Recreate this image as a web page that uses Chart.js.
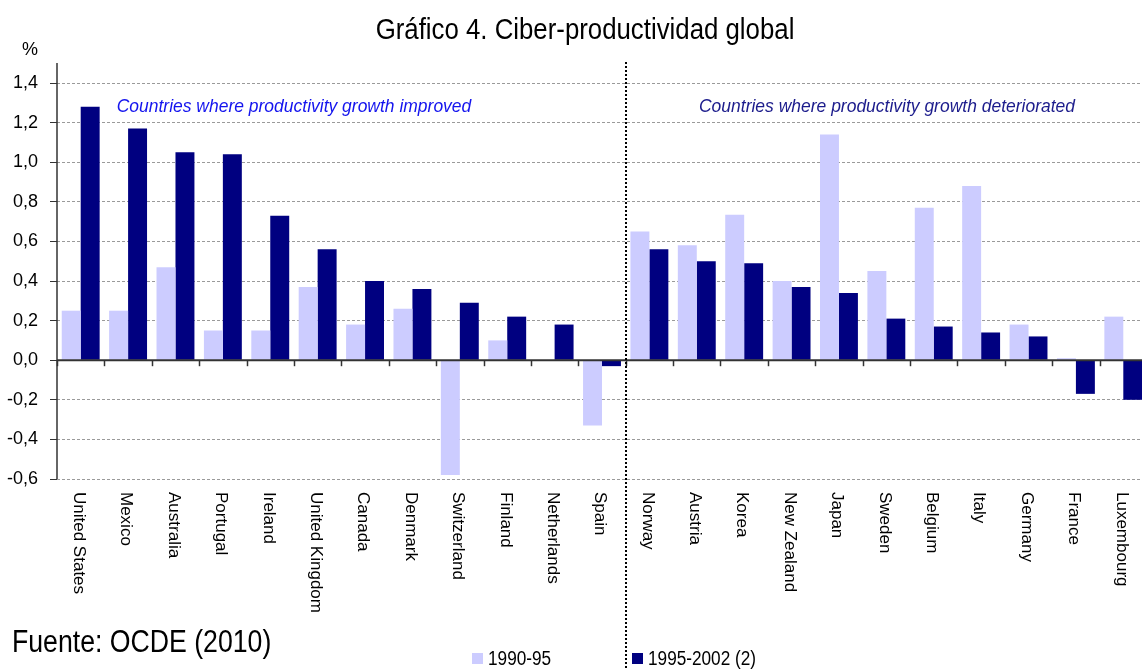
<!doctype html>
<html lang="es">
  <head>
    <meta charset="utf-8">
    <title>Gráfico 4. Ciber-productividad global</title>
    <script src="https://cdn.jsdelivr.net/npm/chart.js"></script>
    <style>
      html, body { margin: 0; padding: 0; background: #fff; overflow: hidden; }
      /* the plot runs a few pixels past the right edge of the picture, as in the original */
      #wrap { width: 1147px; height: 669px; position: relative; }
    </style>
  </head>
  <body>
    <div id="wrap"><canvas id="myChart"></canvas></div>
    <script>
      // data
      const countries = ["United States", "Mexico", "Australia", "Portugal", "Ireland", "United Kingdom",
        "Canada", "Denmark", "Switzerland", "Finland", "Netherlands", "Spain",
        "Norway", "Austria", "Korea", "New Zealand", "Japan", "Sweden", "Belgium", "Italy",
        "Germany", "France", "Luxembourg"];
      const serie1990 = [0.25, 0.25, 0.47, 0.15, 0.15, 0.37, 0.18, 0.26, -0.58, 0.10, 0, -0.33,
        0.65, 0.58, 0.735, 0.40, 1.14, 0.45, 0.77, 0.88, 0.18, 0.01, 0.22];
      const serie1995 = [1.28, 1.17, 1.05, 1.04, 0.73, 0.56, 0.40, 0.36, 0.29, 0.22, 0.18, -0.03,
        0.56, 0.50, 0.49, 0.37, 0.34, 0.21, 0.17, 0.14, 0.12, -0.17, -0.20];
      const seriesNames = ["1990-95", "1995-2002 (2)"];
      const yMin = -0.6, yMax = 1.4, yStep = 0.2;
      const splitAfter = 11; // last country of the "improved" group (Spain)
      const titleText = "Gráfico 4. Ciber-productividad global";
      const noteLeft = "Countries where productivity growth improved";
      const noteRight = "Countries where productivity growth deteriorated";
      const sourceText = "Fuente: OCDE (2010)";

      const FONT = '"Liberation Sans", Arial, sans-serif';
      const LIGHT = "#ccccff";
      const DARK = "#000080";

      // no Arial Narrow here, so squeeze Liberation Sans sideways
      function narrowText(c, txt, x, y, sx) {
        c.save();
        c.translate(x, y);
        c.scale(sx, 1);
        c.fillText(txt, 0, 0);
        c.restore();
      }

      const extras = {
        id: "extras",
        afterDatasetsDraw(chart) {
          const c = chart.ctx;
          const x = chart.scales.x, y = chart.scales.y;
          const area = chart.chartArea;
          const y0 = y.getPixelForValue(0);
          const step = x.getPixelForValue(1) - x.getPixelForValue(0);

          c.save();
          // y axis line (runs a bit above the top tick)
          c.strokeStyle = "#333";
          c.lineWidth = 1.5;
          c.beginPath();
          c.moveTo(area.left, area.top - 20);
          c.lineTo(area.left, area.bottom);
          c.stroke();

          // zero line with category ticks
          c.lineWidth = 2;
          c.beginPath();
          c.moveTo(area.left, y0);
          c.lineTo(area.right, y0);
          c.stroke();
          c.lineWidth = 1.5;
          for (let i = 0; i <= countries.length; i++) {
            const px = Math.round(x.getPixelForValue(i) - step / 2) + 0.5;
            c.beginPath();
            c.moveTo(px, y0);
            c.lineTo(px, y0 + 6);
            c.stroke();
          }

          // dotted separator
          const sep = Math.round((x.getPixelForValue(splitAfter) + x.getPixelForValue(splitAfter + 1)) / 2);
          c.strokeStyle = "#000";
          c.lineWidth = 2;
          c.setLineDash([2, 2]);
          c.beginPath();
          c.moveTo(sep, area.top - 21);
          c.lineTo(sep, chart.height);
          c.stroke();
          c.setLineDash([]);

          // country labels, rotated clockwise
          c.fillStyle = "#000";
          c.font = "17px " + FONT;
          c.textAlign = "left";
          c.textBaseline = "middle";
          countries.forEach((name, i) => {
            c.save();
            c.translate(x.getPixelForValue(i) - 2, area.bottom + 13);
            c.rotate(Math.PI / 2);
            c.fillText(name, 0, 0);
            c.restore();
          });

          // notes
          c.font = "italic 19px " + FONT;
          c.textBaseline = "alphabetic";
          c.fillStyle = "#1414ee";
          narrowText(c, noteLeft, x.getPixelForValue(0) + 36, 112, 0.92);
          c.fillStyle = "#1c1c8c";
          narrowText(c, noteRight, sep + 73, 112, 0.92);

          // title, unit, source
          c.fillStyle = "#000";
          c.font = "30px " + FONT;
          c.textAlign = "center";
          narrowText(c, titleText, 585, 39, 0.86);
          c.font = "18px " + FONT;
          c.fillText("%", 30, 55);
          c.textAlign = "left";
          c.font = "31px " + FONT;
          narrowText(c, sourceText, 12, 652, 0.86);

          // legend
          c.font = "20px " + FONT;
          c.textBaseline = "middle";
          const legend = [[472, LIGHT, seriesNames[0]], [sep + 6, DARK, seriesNames[1]]];
          legend.forEach(([lx, col, txt]) => {
            c.fillStyle = col;
            c.fillRect(lx, 653, 11, 11);
            c.fillStyle = "#000";
            narrowText(c, txt, lx + 16, 659, 0.86);
          });
          c.restore();
        }
      };

      const ctx = document.getElementById("myChart");
      const myChart = new Chart(ctx, {
        type: "bar",
        data: {
          labels: countries,
          datasets: [
            { label: seriesNames[0], data: serie1990, backgroundColor: LIGHT },
            { label: seriesNames[1], data: serie1995, backgroundColor: DARK }
          ]
        },
        options: {
          responsive: true,
          maintainAspectRatio: false,
          animation: false,
          layout: { padding: { top: 83, bottom: 190, left: 0, right: 0 } },
          datasets: { bar: { categoryPercentage: 0.8, barPercentage: 1.0 } },
          plugins: { legend: { display: false }, title: { display: false }, tooltip: { enabled: false } },
          scales: {
            x: { display: false },
            y: {
              min: yMin,
              max: yMax,
              afterFit(scale) { scale.width = 57; },
              border: { display: false, dash: [3, 2] },
              grid: { color: "#9a9a9a", tickColor: "#333", tickLength: 7, tickBorderDash: [] },
              ticks: {
                stepSize: yStep,
                color: "#000",
                padding: 12,
                font: { size: 18, family: FONT },
                callback: v => v.toFixed(1).replace(".", ",")
              }
            }
          }
        },
        plugins: [extras]
      });
    </script>
  </body>
</html>
